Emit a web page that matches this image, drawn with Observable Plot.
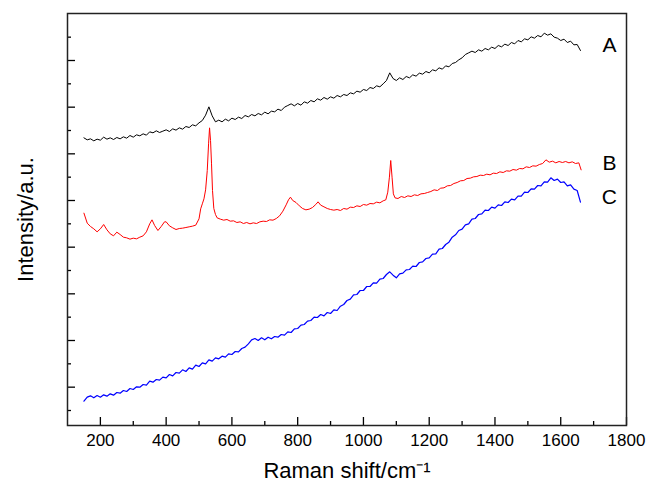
<!DOCTYPE html>
<html><head><meta charset="utf-8">
<script src="https://cdn.jsdelivr.net/npm/d3@7"></script>
<script src="https://cdn.jsdelivr.net/npm/@observablehq/plot@0.6"></script>
<style>body{margin:0;background:#fff} svg{display:block}</style>
</head><body><div id="chart"></div>
<script>
// Raman shift (cm^-1) sampling shared by spectra A and C
const shiftAC = [150,160,170,180,190,200,210,220,230,240,250,260,270,280,290,300,310,320,330,340,
350,360,370,380,390,400,410,420,430,440,450,460,470,480,490,500,510,520,530,540,
550,560,570,580,590,600,610,620,630,640,650,660,670,680,690,700,710,720,730,740,
750,760,770,780,790,800,810,820,830,840,850,860,870,880,890,900,910,920,930,940,
950,960,970,980,990,1000,1010,1020,1030,1040,1050,1060,1070,1080,1090,1100,1110,1120,1130,1140,
1150,1160,1170,1180,1190,1200,1210,1220,1230,1240,1250,1260,1270,1280,1290,1300,1310,1320,1330,1340,
1350,1360,1370,1380,1390,1400,1410,1420,1430,1440,1450,1460,1470,1480,1490,1500,1510,1520,1530,1540,
1550,1560,1570,1580,1590,1600,1610,1620,1630,1640,1650,1660];

const intensityA = [818,812,815,809,814,811,820,814,818,813,819,815,821,817,825,820,827,824,830,826,
836,833,839,834,838,842,837,845,841,848,844,852,849,857,854,863,870,886,911,884,
866,871,866,874,869,877,873,880,876,885,881,888,884,891,887,895,890,898,896,904,
900,910,915,920,914,921,916,926,922,930,926,935,931,939,934,941,937,945,941,948,
945,953,950,958,955,963,960,969,966,974,971,980,990,1013,996,990,998,993,1002,998,
1007,1003,1012,1009,1017,1013,1022,1019,1028,1024,1034,1031,1041,1044,1052,1058,1068,1073,1078,1074,
1082,1078,1086,1082,1090,1086,1095,1091,1099,1095,1104,1100,1110,1106,1115,1112,1121,1117,1125,1121,
1132,1126,1130,1120,1117,1110,1114,1104,1108,1097,1098,1080];

const intensityC = [28,40,44,38,45,40,47,43,50,46,54,52,60,57,66,63,71,70,78,76,
88,85,93,91,100,98,108,104,114,112,122,117,128,124,136,132,143,140,152,148,
158,155,163,160,170,168,177,176,186,190,200,212,216,210,218,212,220,215,222,220,
228,226,236,234,245,246,256,258,268,270,280,279,288,284,294,291,302,300,313,318,
330,334,347,348,360,360,372,372,383,382,394,396,408,416,406,398,410,412,422,423,
433,432,444,446,456,458,469,470,484,486,498,505,520,527,540,544,557,560,574,576,
588,590,601,600,610,607,617,615,626,624,634,632,643,643,655,654,665,664,675,674,
686,685,698,690,694,684,686,674,677,664,660,625];

// Spectrum B (finer sampling around the sharp bands)
const shiftB = [150,160,170,180,190,200,210,220,230,240,250,260,270,280,290,300,310,320,330,340,
350,357,365,375,385,395,400,410,420,430,440,450,460,470,480,490,500,505,510,515,
520,525,529,532,535,538,541,545,550,555,565,575,585,595,605,615,625,635,645,655,
665,675,685,695,705,715,725,735,745,755,765,772,778,785,795,805,815,825,835,845,
855,862,870,880,890,900,910,920,930,940,950,960,970,980,990,1000,1010,1020,1030,1040,
1050,1060,1068,1074,1079,1083,1087,1091,1096,1105,1115,1125,1135,1145,1155,1165,1175,1185,1195,1205,
1215,1225,1235,1245,1255,1265,1275,1285,1295,1305,1315,1325,1335,1345,1355,1365,1375,1385,1395,1405,
1415,1425,1435,1445,1455,1465,1475,1485,1495,1505,1515,1525,1535,1545,1555,1565,1575,1585,1595,1605,
1615,1625,1635,1645,1655,1662];

const intensityB = [592,562,552,545,536,545,558,542,530,524,535,528,520,518,514,517,515,520,524,536,
560,572,555,540,552,566,566,554,548,543,546,547,549,551,553,556,575,605,620,635,
662,720,800,848,810,740,660,606,588,578,574,571,573,568,569,564,566,561,564,560,
563,561,566,568,567,572,571,576,584,598,617,632,640,630,624,614,606,602,604,609,
618,626,616,611,606,603,601,603,600,606,604,610,609,614,612,618,616,621,620,625,
623,629,632,655,700,750,700,650,638,636,642,639,644,642,647,645,650,651,654,657,
662,660,667,668,674,675,681,684,689,690,696,697,701,702,706,705,709,707,712,711,
716,714,719,718,723,721,726,725,731,729,734,733,738,741,752,745,748,743,747,744,
747,743,746,741,743,722];

// Axis ticks
const xMajorTicks = [200,400,600,800,1000,1200,1400,1600,1800];
const xMinorTicks = [300,500,700,900,1100,1300,1500,1700];
const yMajorTicks = [70,210,350,490,630,770,910,1050];
const yMinorTicks = [0,140,280,420,560,700,840,980,1120];

// Curve labels
const seriesNames = ["A","B","C"];
const labelShift = [1748,1748,1748];
const labelIntensity = [1095,741,639];

const dataA = shiftAC.map((x,i)=>({x, y:intensityA[i]}));
const dataB = shiftB.map((x,i)=>({x, y:intensityB[i]}));
const dataC = shiftAC.map((x,i)=>({x, y:intensityC[i]}));
const labels = seriesNames.map((t,i)=>({t, x:labelShift[i], y:labelIntensity[i]}));

const font = "'Liberation Sans', Arial, sans-serif";
const chart = Plot.plot({
  width: 646, height: 487,
  marginLeft: 67, marginRight: 20, marginTop: 13, marginBottom: 62,
  style: {fontFamily: font, fontSize: "17px", color: "#000", background: "#fff"},
  x: {domain: [100, 1800]},
  y: {domain: [-45, 1191]},
  marks: [
    Plot.line(dataC, {x:"x", y:"y", stroke:"#0000ff", strokeWidth:1.2}),
    Plot.line(dataB, {x:"x", y:"y", stroke:"#ff0000", strokeWidth:1}),
    Plot.line(dataA, {x:"x", y:"y", stroke:"#000", strokeWidth:1}),
    Plot.axisX(xMajorTicks, {tickSize:-8, tickFormat:()=>"", label:null, strokeWidth:1.3}),
    Plot.axisX(xMinorTicks, {tickSize:-4, tickFormat:()=>"", label:null, strokeWidth:1.3}),
    Plot.axisX(xMajorTicks, {tickSize:0, tickPadding:8, fontSize:17, label:null, tickFormat:d=>String(d)}),
    Plot.axisY(yMajorTicks, {tickSize:-8, tickFormat:()=>"", label:null, strokeWidth:1.3}),
    Plot.axisY(yMinorTicks, {tickSize:-4, tickFormat:()=>"", label:null, strokeWidth:1.3}),
    Plot.frame({stroke:"#222", strokeWidth:1.5}),
    Plot.text(["Raman shift/cm\u207B\u00B9"], {frameAnchor:"bottom", dy:52, fontSize:22, text:d=>d}),
    Plot.text(["Intensity/a.u."], {frameAnchor:"left", textAnchor:"middle", dx:-42, rotate:-90, fontSize:22, text:d=>d}),
    Plot.text(labels, {x:"x", y:"y", text:"t", fontSize:21})
  ]
});
document.getElementById("chart").appendChild(chart);
</script>
</body></html>
